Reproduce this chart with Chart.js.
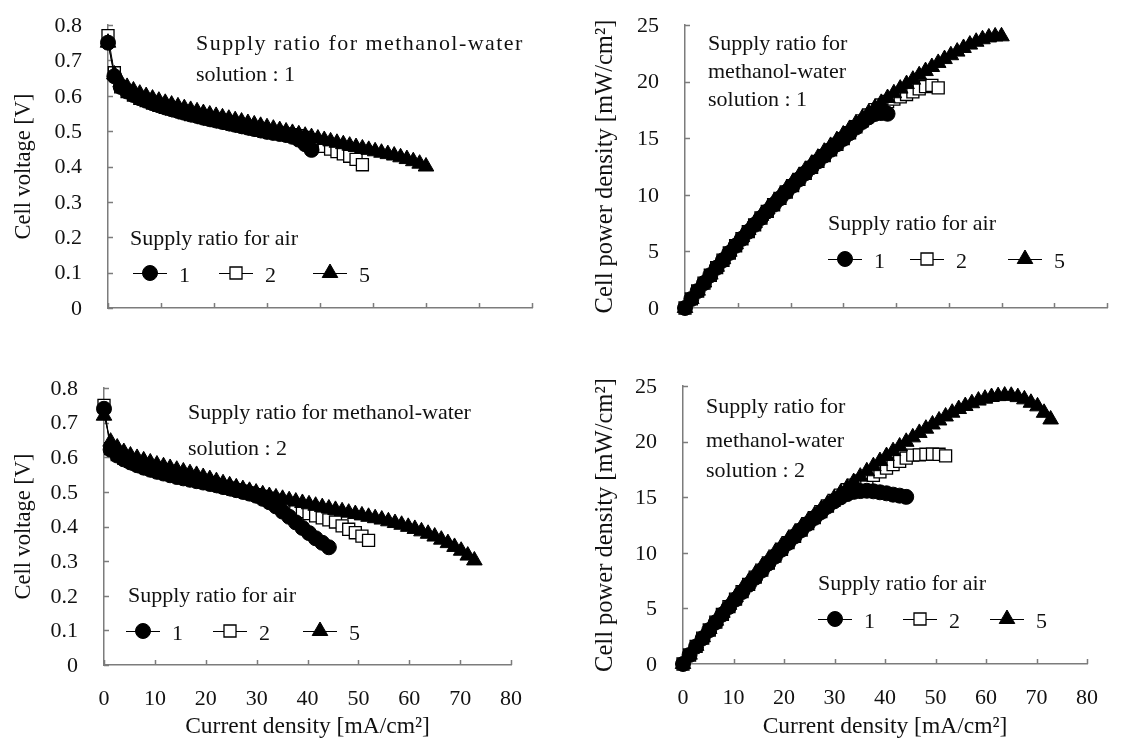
<!DOCTYPE html>
<html>
<head>
<meta charset="utf-8">
<title>DMFC polarization and power curves</title>
<script src="https://cdn.jsdelivr.net/npm/chart.js@4.4.1/dist/chart.umd.min.js"></script>
<style>
  html, body { margin: 0; padding: 0; background: #ffffff; }
  #sheet { position: relative; width: 1124px; height: 741px; overflow: hidden; background: #ffffff; }
  #sheet canvas { position: absolute; }
</style>
</head>
<body>
<div id="sheet">
  <canvas id="voltRatio1"  width="580" height="360" style="left:0;top:0;width:580px;height:360px"></canvas>
  <canvas id="powerRatio1" width="544" height="360" style="left:580px;top:0;width:544px;height:360px"></canvas>
  <canvas id="voltRatio2"  width="580" height="381" style="left:0;top:360px;width:580px;height:381px"></canvas>
  <canvas id="powerRatio2" width="544" height="381" style="left:580px;top:360px;width:544px;height:381px"></canvas>
</div>
<script>
// ---------- current density [mA/cm2] at which the cell was sampled ----------
const currentRatio1 = [0, 1.2, 2.4, 3.6, 4.8, 6.0, 7.2, 8.4, 9.6, 10.8, 12.0, 13.2, 14.4, 15.6, 16.8, 18.0, 19.2,
  20.4, 21.6, 22.8, 24.0, 25.2, 26.4, 27.6, 28.8, 30.0, 31.2, 32.4, 33.6, 34.8, 36.0, 37.2, 38.4, 39.6, 40.8,
  42.0, 43.2, 44.4, 45.6, 46.8, 48.0, 49.2, 50.4, 51.6, 52.8, 54.0, 55.2, 56.4, 57.6, 58.8, 60.0];
const currentRatio2 = [0, 1.3, 2.6, 3.9, 5.2, 6.5, 7.8, 9.1, 10.4, 11.7, 13.0, 14.3, 15.6, 16.9, 18.2, 19.5, 20.8,
  22.1, 23.4, 24.7, 26.0, 27.3, 28.6, 29.9, 31.2, 32.5, 33.8, 35.1, 36.4, 37.7, 39.0, 40.3, 41.6, 42.9, 44.2,
  45.5, 46.8, 48.1, 49.4, 50.7, 52.0, 53.3, 54.6, 55.9, 57.2, 58.5, 59.8, 61.1, 62.4, 63.7, 65.0, 66.3, 67.6,
  68.9, 70.2, 71.5, 72.8];

// ---------- methanol-water supply ratio 1: cell voltage [V] ----------
const voltM1Air1 = [0.750, 0.655, 0.625, 0.612, 0.602, 0.593, 0.586, 0.579, 0.573, 0.567, 0.562, 0.557, 0.552,
  0.547, 0.543, 0.538, 0.534, 0.530, 0.526, 0.522, 0.518, 0.514, 0.510, 0.506, 0.502, 0.498, 0.495, 0.492,
  0.489, 0.484, 0.476, 0.463, 0.447];
const voltM1Air2 = [0.770, 0.665, 0.625, 0.612, 0.602, 0.593, 0.586, 0.579, 0.573, 0.567, 0.562, 0.557, 0.552,
  0.547, 0.543, 0.538, 0.534, 0.530, 0.526, 0.522, 0.518, 0.514, 0.510, 0.506, 0.502, 0.499, 0.496, 0.494,
  0.492, 0.490, 0.487, 0.482, 0.475, 0.466, 0.457, 0.449, 0.442, 0.436, 0.429, 0.420, 0.405];
const voltM1Air5 = [0.750, 0.660, 0.638, 0.625, 0.615, 0.606, 0.599, 0.592, 0.586, 0.580, 0.575, 0.570, 0.565,
  0.560, 0.556, 0.551, 0.547, 0.543, 0.539, 0.535, 0.531, 0.527, 0.523, 0.519, 0.515, 0.511, 0.507, 0.503,
  0.499, 0.495, 0.491, 0.487, 0.483, 0.479, 0.475, 0.471, 0.467, 0.463, 0.459, 0.455, 0.451, 0.447, 0.443,
  0.439, 0.435, 0.431, 0.426, 0.421, 0.415, 0.408, 0.400];

// ---------- methanol-water supply ratio 1: power density [mW/cm2] ----------
const powerM1Air1 = [0, 0.79, 1.50, 2.20, 2.89, 3.56, 4.22, 4.86, 5.50, 6.12, 6.74, 7.35, 7.95, 8.53, 9.12, 9.68,
  10.25, 10.81, 11.36, 11.90, 12.43, 12.95, 13.46, 13.97, 14.46, 14.94, 15.44, 15.94, 16.43, 16.84, 17.14,
  17.22, 17.16];
const powerM1Air2 = [0, 0.80, 1.50, 2.20, 2.89, 3.56, 4.22, 4.86, 5.50, 6.12, 6.74, 7.35, 7.95, 8.53, 9.12, 9.68,
  10.25, 10.81, 11.36, 11.90, 12.43, 12.95, 13.46, 13.97, 14.46, 14.97, 15.48, 16.01, 16.53, 17.05, 17.53,
  17.93, 18.24, 18.45, 18.65, 18.86, 19.09, 19.36, 19.56, 19.66, 19.44];
const powerM1Air5 = [0, 0.79, 1.53, 2.25, 2.95, 3.64, 4.31, 4.97, 5.63, 6.26, 6.90, 7.52, 8.14, 8.74, 9.34, 9.92,
  10.50, 11.08, 11.64, 12.20, 12.74, 13.28, 13.81, 14.32, 14.83, 15.33, 15.82, 16.30, 16.77, 17.23, 17.68,
  18.12, 18.55, 18.97, 19.38, 19.78, 20.17, 20.56, 20.93, 21.29, 21.65, 21.99, 22.33, 22.65, 22.97, 23.27,
  23.52, 23.74, 23.90, 23.99, 24.00];

// ---------- methanol-water supply ratio 2: cell voltage [V] ----------
const voltM2Air1 = [0.740, 0.622, 0.605, 0.594, 0.585, 0.577, 0.570, 0.564, 0.558, 0.553, 0.548, 0.543, 0.539,
  0.535, 0.531, 0.527, 0.523, 0.519, 0.514, 0.510, 0.505, 0.500, 0.495, 0.489, 0.480, 0.470, 0.458, 0.443,
  0.428, 0.412, 0.396, 0.381, 0.366, 0.353, 0.340];
const voltM2Air2 = [0.750, 0.625, 0.608, 0.597, 0.588, 0.580, 0.573, 0.567, 0.561, 0.556, 0.551, 0.546, 0.541,
  0.537, 0.533, 0.529, 0.525, 0.520, 0.515, 0.511, 0.506, 0.502, 0.497, 0.492, 0.487, 0.482, 0.476, 0.469,
  0.458, 0.450, 0.443, 0.437, 0.431, 0.425, 0.419, 0.413, 0.402, 0.392, 0.382, 0.372, 0.360];
const voltM2Air5 = [0.720, 0.645, 0.628, 0.615, 0.605, 0.598, 0.591, 0.585, 0.579, 0.574, 0.569, 0.564, 0.559,
  0.554, 0.549, 0.543, 0.537, 0.531, 0.525, 0.519, 0.513, 0.508, 0.503, 0.498, 0.493, 0.488, 0.484, 0.480,
  0.476, 0.472, 0.468, 0.464, 0.460, 0.456, 0.452, 0.448, 0.444, 0.440, 0.436, 0.432, 0.428, 0.424, 0.420,
  0.415, 0.410, 0.405, 0.399, 0.393, 0.386, 0.379, 0.371, 0.362, 0.352, 0.341, 0.330, 0.316, 0.302];

// ---------- methanol-water supply ratio 2: power density [mW/cm2] ----------
const powerM2Air1 = [0, 0.81, 1.57, 2.32, 3.04, 3.75, 4.45, 5.13, 5.80, 6.47, 7.12, 7.76, 8.41, 9.04, 9.66, 10.28,
  10.88, 11.47, 12.03, 12.60, 13.13, 13.65, 14.16, 14.62, 14.98, 15.28, 15.48, 15.55, 15.58, 15.53, 15.44,
  15.35, 15.23, 15.14, 15.03];
const powerM2Air2 = [0, 0.81, 1.58, 2.33, 3.06, 3.77, 4.47, 5.16, 5.83, 6.51, 7.16, 7.81, 8.44, 9.08, 9.70, 10.32,
  10.92, 11.49, 12.05, 12.62, 13.16, 13.70, 14.21, 14.71, 15.19, 15.67, 16.09, 16.46, 16.67, 16.97, 17.28,
  17.61, 17.93, 18.23, 18.52, 18.79, 18.81, 18.86, 18.87, 18.86, 18.72];
const powerM2Air5 = [0, 0.84, 1.63, 2.40, 3.15, 3.89, 4.61, 5.32, 6.02, 6.72, 7.40, 8.07, 8.72, 9.36, 9.99, 10.59,
  11.17, 11.74, 12.29, 12.82, 13.34, 13.87, 14.39, 14.89, 15.38, 15.86, 16.36, 16.85, 17.33, 17.79, 18.25,
  18.70, 19.14, 19.56, 19.98, 20.38, 20.78, 21.16, 21.54, 21.90, 22.26, 22.60, 22.93, 23.20, 23.45, 23.69,
  23.86, 24.01, 24.09, 24.14, 24.12, 24.00, 23.80, 23.49, 23.17, 22.59, 21.99];

// ---------- labels ----------
const airRatioLabels = ['1', '2', '5'];
const currentTickLabels = ['0', '10', '20', '30', '40', '50', '60', '70', '80'];
const voltTickLabels = ['0', '0.1', '0.2', '0.3', '0.4', '0.5', '0.6', '0.7', '0.8'];
const powerTickLabels = ['0', '5', '10', '15', '20', '25'];
const noteRatio1Wide = ['Supply ratio for methanol-water', 'solution : 1'];
const noteRatio1Narrow = ['Supply ratio for', 'methanol-water', 'solution : 1'];
const noteRatio2Wide = ['Supply ratio for methanol-water', 'solution : 2'];
const noteRatio2Narrow = ['Supply ratio for', 'methanol-water', 'solution : 2'];
const airLegendTitle = 'Supply ratio for air';
const voltAxisTitle = 'Cell voltage [V]';
const powerAxisTitle = 'Cell power density [mW/cm\u00B2]';
const currentAxisTitle = 'Current density [mA/cm\u00B2]';

// ---------- styling ----------
const FONT = "'Liberation Serif', 'Times New Roman', Times, serif";
const INK = '#111111';
const AXIS = '#7c7c7c';
const CLEAR = 'rgba(0,0,0,0)';
const MARKERS = [
  { pointStyle: 'circle',   radius: 7.5, fill: '#000000', stroke: '#000000', width: 1,   order: 1 },
  { pointStyle: 'rect',     radius: 8.5, fill: '#ffffff', stroke: '#000000', width: 1.3, order: 2 },
  { pointStyle: 'triangle', radius: 9.0, fill: '#000000', stroke: '#000000', width: 1,   order: 0 }
];

// marker outline identical to the one the library uses for points
function markerPath(ctx, style, r, x, y) {
  ctx.beginPath();
  if (style === 'circle') {
    ctx.arc(x, y, r, 0, Math.PI * 2);
  } else if (style === 'rect') {
    const s = Math.SQRT1_2 * r;
    ctx.rect(x - s, y - s, 2 * s, 2 * s);
  } else {
    const step = Math.PI * 2 / 3;
    ctx.moveTo(x, y - r);
    ctx.lineTo(x + Math.sin(step) * r, y - Math.cos(step) * r);
    ctx.lineTo(x + Math.sin(2 * step) * r, y - Math.cos(2 * step) * r);
    ctx.closePath();
  }
}

// short tick marks pointing into the plot area
const insideTicks = {
  id: 'insideTicks',
  beforeDatasetsDraw(chart) {
    const { ctx, chartArea: ca, scales } = chart;
    ctx.save();
    ctx.strokeStyle = AXIS;
    ctx.lineWidth = 1.5;
    ctx.beginPath();
    scales.x.ticks.forEach(t => {
      const px = Math.round(scales.x.getPixelForValue(t.value)) + 0.5;
      ctx.moveTo(px, ca.bottom);
      ctx.lineTo(px, ca.bottom - 5);
    });
    scales.y.ticks.forEach(t => {
      const py = Math.round(scales.y.getPixelForValue(t.value)) + 0.5;
      ctx.moveTo(ca.left, py);
      ctx.lineTo(ca.left + 5, py);
    });
    ctx.stroke();
    ctx.restore();
  }
};

// in-plot notes: operating condition and the air supply ratio key
const panelNotes = {
  id: 'panelNotes',
  afterDraw(chart, args, o) {
    const { ctx, chartArea: ca } = chart;
    ctx.save();
    ctx.fillStyle = INK;
    ctx.font = o.fontSize + 'px ' + FONT;
    ctx.textAlign = 'left';
    ctx.textBaseline = 'alphabetic';
    o.lines.forEach((t, i) => {
      if ('letterSpacing' in ctx) ctx.letterSpacing = (i === 0 && o.firstSpacing ? o.firstSpacing : 0) + 'px';
      ctx.fillText(t, ca.left + o.noteX, ca.top + o.noteY[i]);
    });
    if ('letterSpacing' in ctx) ctx.letterSpacing = '0px';
    ctx.fillText(airLegendTitle, ca.left + o.keyX, ca.top + o.keyY);
    const rowY = ca.top + o.rowY;
    airRatioLabels.forEach((lab, i) => {
      const m = MARKERS[i];
      const cx = ca.left + o.itemX[i];
      ctx.strokeStyle = '#000000';
      ctx.lineWidth = 1;
      ctx.beginPath();
      ctx.moveTo(cx - 17, rowY + 0.5);
      ctx.lineTo(cx + 17, rowY + 0.5);
      ctx.stroke();
      markerPath(ctx, m.pointStyle, m.radius, cx, rowY);
      ctx.fillStyle = m.fill;
      ctx.fill();
      ctx.strokeStyle = m.stroke;
      ctx.lineWidth = m.width;
      ctx.stroke();
      ctx.fillStyle = INK;
      ctx.fillText(lab, cx + 29, rowY + 9);
    });
    ctx.restore();
  }
};

function makeDatasets(xs, series) {
  return series.map((ys, i) => {
    const m = MARKERS[i];
    return {
      label: airRatioLabels[i],
      data: ys.map((v, k) => ({ x: xs[k], y: v })),
      showLine: true,
      borderColor: '#000000',
      borderWidth: 1,
      pointStyle: m.pointStyle,
      pointRadius: m.radius,
      pointHoverRadius: m.radius,
      pointBackgroundColor: m.fill,
      pointBorderColor: m.stroke,
      pointBorderWidth: m.width,
      order: m.order,
      clip: false
    };
  });
}

function buildPanel(p) {
  const canvas = document.getElementById(p.id);
  const W = canvas.width, H = canvas.height;
  new Chart(canvas, {
    type: 'scatter',
    data: { datasets: makeDatasets(p.x, p.series) },
    options: {
      responsive: false,
      animation: false,
      events: [],
      layout: { padding: { left: 0, top: p.area.top, right: W - p.area.right, bottom: 0 } },
      plugins: {
        legend: { display: false },
        tooltip: { enabled: false },
        panelNotes: p.notes
      },
      scales: {
        x: {
          type: 'linear', min: 0, max: 80,
          // invisible outer tick marks only reserve the gap between axis and labels
          grid: { display: true, drawOnChartArea: false, drawTicks: true, tickLength: 21, tickColor: CLEAR },
          border: { display: true, color: AXIS, width: 1.5 },
          ticks: {
            display: p.showX, stepSize: 10, padding: 0,
            color: INK, font: { family: FONT, size: 22 },
            callback: (v, i) => currentTickLabels[i]
          },
          title: {
            display: p.showX, text: currentAxisTitle, color: INK,
            font: { family: FONT, size: 23.5 }, padding: { top: 0, bottom: 0 }
          },
          afterFit: s => { s.height = H - p.area.bottom; }
        },
        y: {
          type: 'linear', min: 0, max: p.yMax,
          grid: { display: true, drawOnChartArea: false, drawTicks: true, tickLength: 26, tickColor: CLEAR },
          border: { display: true, color: AXIS, width: 1.5 },
          ticks: {
            stepSize: p.yStep, padding: 0, labelOffset: 1,
            color: INK, font: { family: FONT, size: 22 },
            callback: (v, i) => p.yTicks[i]
          },
          title: {
            display: true, text: p.yTitle, color: INK,
            font: { family: FONT, size: p.yTitleSize }, padding: { top: 11, bottom: 11 }
          },
          afterFit: s => { s.width = p.area.left; }
        }
      }
    },
    plugins: [insideTicks, panelNotes]
  });
}

const panels = [
  {
    id: 'voltRatio1', area: { left: 108, top: 25, right: 532, bottom: 308 },
    x: currentRatio1, series: [voltM1Air1, voltM1Air2, voltM1Air5],
    yMax: 0.8, yStep: 0.1, yTicks: voltTickLabels, yTitle: voltAxisTitle, yTitleSize: 22.5, showX: false,
    notes: { fontSize: 22, firstSpacing: 1.45, lines: noteRatio1Wide, noteX: 88, noteY: [25, 56],
             keyX: 22, keyY: 220, rowY: 248, itemX: [42, 128, 222] }
  },
  {
    id: 'powerRatio1', area: { left: 105, top: 25, right: 527, bottom: 308 },
    x: currentRatio1, series: [powerM1Air1, powerM1Air2, powerM1Air5],
    yMax: 25, yStep: 5, yTicks: powerTickLabels, yTitle: powerAxisTitle, yTitleSize: 24.5, showX: false,
    notes: { fontSize: 22, lines: noteRatio1Narrow, noteX: 23, noteY: [25, 53, 81],
             keyX: 143, keyY: 205, rowY: 234, itemX: [160, 242, 340] }
  },
  {
    id: 'voltRatio2', area: { left: 104, top: 28, right: 511, bottom: 305 },
    x: currentRatio2, series: [voltM2Air1, voltM2Air2, voltM2Air5],
    yMax: 0.8, yStep: 0.1, yTicks: voltTickLabels, yTitle: voltAxisTitle, yTitleSize: 22.5, showX: true,
    notes: { fontSize: 22, lines: noteRatio2Wide, noteX: 84, noteY: [31, 67],
             keyX: 24, keyY: 214, rowY: 243, itemX: [39, 126, 216] }
  },
  {
    id: 'powerRatio2', area: { left: 103, top: 26, right: 507, bottom: 304 },
    x: currentRatio2, series: [powerM2Air1, powerM2Air2, powerM2Air5],
    yMax: 25, yStep: 5, yTicks: powerTickLabels, yTitle: powerAxisTitle, yTitleSize: 24.5, showX: true,
    notes: { fontSize: 22, lines: noteRatio2Narrow, noteX: 23, noteY: [27, 61, 91],
             keyX: 135, keyY: 204, rowY: 233, itemX: [152, 237, 324] }
  }
];

panels.forEach(buildPanel);
</script>
</body>
</html>
